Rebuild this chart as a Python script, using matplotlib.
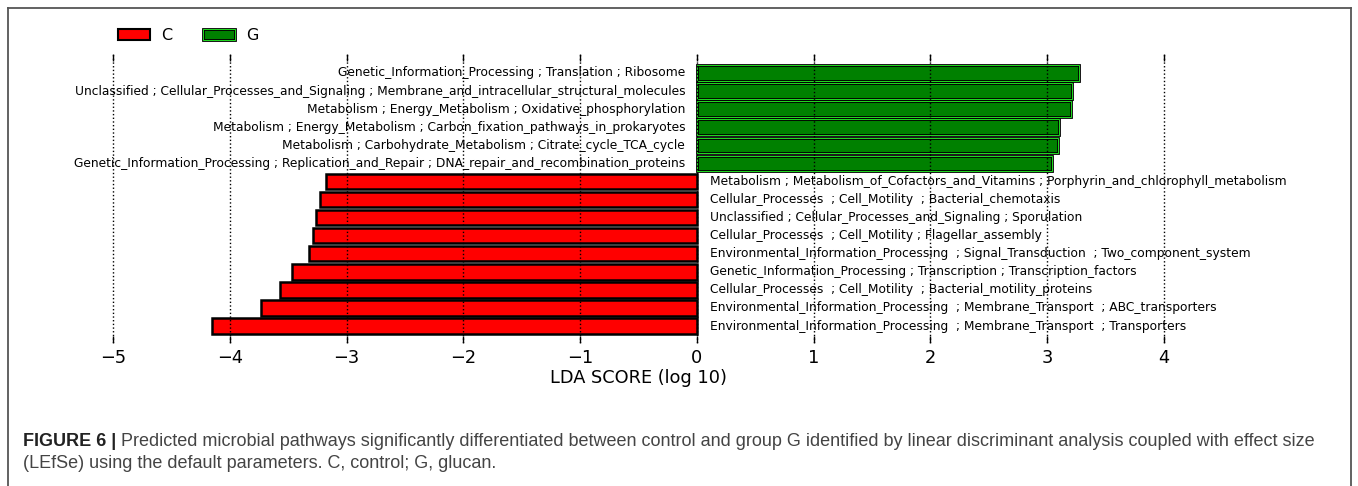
# -*- coding: utf-8 -*-
import matplotlib
matplotlib.use("Agg")
import matplotlib.pyplot as plt
from matplotlib.patches import Patch
from matplotlib.lines import Line2D
from matplotlib.legend_handler import HandlerTuple

# features, top to bottom as in the figure
features = [
    "Genetic_Information_Processing ; Translation ; Ribosome",
    "Unclassified ; Cellular_Processes_and_Signaling ; Membrane_and_intracellular_structural_molecules",
    "Metabolism ; Energy_Metabolism ; Oxidative_phosphorylation",
    "Metabolism ; Energy_Metabolism ; Carbon_fixation_pathways_in_prokaryotes",
    "Metabolism ; Carbohydrate_Metabolism ; Citrate_cycle_TCA_cycle",
    "Genetic_Information_Processing ; Replication_and_Repair ; DNA_repair_and_recombination_proteins",
    "Metabolism ; Metabolism_of_Cofactors_and_Vitamins ; Porphyrin_and_chlorophyll_metabolism",
    "Cellular_Processes  ; Cell_Motility  ; Bacterial_chemotaxis",
    "Unclassified ; Cellular_Processes_and_Signaling ; Sporulation",
    "Cellular_Processes  ; Cell_Motility ; Flagellar_assembly",
    "Environmental_Information_Processing  ; Signal_Transduction  ; Two_component_system",
    "Genetic_Information_Processing ; Transcription ; Transcription_factors",
    "Cellular_Processes  ; Cell_Motility  ; Bacterial_motility_proteins",
    "Environmental_Information_Processing  ; Membrane_Transport  ; ABC_transporters",
    "Environmental_Information_Processing  ; Membrane_Transport  ; Transporters",
]
groups = ["G"] * 6 + ["C"] * 9
lda_scores = [3.27, 3.21, 3.20, 3.10, 3.09, 3.04,
              -3.18, -3.23, -3.26, -3.29, -3.32, -3.47, -3.57, -3.73, -4.15]
xticks = [-5, -4, -3, -2, -1, 0, 1, 2, 3, 4]

red = "#ff0000"
green = "#008000"
lime = "#22dd22"

fig = plt.figure(figsize=(13.58, 4.86), dpi=100)
W, H = 1358.0, 486.0

# axes placed so that -5 -> x=113px and 4 -> x=1164px
left_px, right_px = 83.8, 1193.2
top_px, bottom_px = 54.0, 343.0
ax = fig.add_axes([left_px / W, 1 - bottom_px / H,
                   (right_px - left_px) / W, (bottom_px - top_px) / H])

label_size = 8.8
ypos = list(range(len(features)))
for y, v, g, name in zip(ypos, lda_scores, groups, features):
    if g == "G":
        ax.barh(y, v, height=0.86, color=green, edgecolor="black", linewidth=2.0, zorder=1)
        ax.barh(y, v, height=0.86, fill=False, edgecolor=lime, linewidth=0.7, zorder=1.1)
        ax.text(-0.1, y, name, ha="right", va="center", fontsize=label_size, zorder=3)
    else:
        ax.barh(y, v, height=0.86, color=red, edgecolor="black", linewidth=1.8, zorder=1)
        ax.text(0.11, y, name, ha="left", va="center", fontsize=label_size, zorder=3)

ax.set_xlim(-5.25, 4.25)
ax.set_ylim(14.94, -1.05)
ax.set_xticks(xticks)
ax.set_xticklabels(["\u2212%d" % -t if t < 0 else str(t) for t in xticks])
ax.set_yticks([])
for s in ax.spines.values():
    s.set_visible(False)
ax.tick_params(axis="x", direction="in", top=True, bottom=True, length=5,
               width=1, labelsize=12.8, pad=4)
ax.grid(axis="x", linestyle=":", color="black", linewidth=1)
ax.set_axisbelow(False)
ax.set_xlabel("LDA SCORE (log 10)", fontsize=12.8, labelpad=2)

# legend
h_c = Patch(facecolor=red, edgecolor="black", linewidth=1.5)
h_g = (Patch(facecolor=green, edgecolor="black", linewidth=2.0),
       Patch(fill=False, edgecolor=lime, linewidth=0.7))
fig.legend([h_c, h_g], ["C", "G"], loc="upper left",
           bbox_to_anchor=(107 / W, 1 - 17 / H), ncol=2, frameon=False,
           fontsize=11.5, handlelength=2.0, handleheight=0.7,
           handletextpad=0.7, columnspacing=1.9, borderpad=0.2,
           handler_map={tuple: HandlerTuple(ndivide=1)})

# outer frame of the figure panel (open at the bottom)
frame_kw = dict(color="#555555", linewidth=1.3, transform=fig.transFigure)
fig.add_artist(Line2D([8 / W, 8 / W], [-0.1, 1 - 8 / H], **frame_kw))
fig.add_artist(Line2D([8 / W, 1351 / W], [1 - 8 / H, 1 - 8 / H], **frame_kw))
fig.add_artist(Line2D([1351 / W, 1351 / W], [-0.1, 1 - 8 / H], **frame_kw))

# caption
cap_font = ["Liberation Sans", "DejaVu Sans"]
cap_size = 13.0
bold = fig.text(23 / W, 1 - 441 / H, "FIGURE 6 |", fontsize=cap_size,
                fontweight="bold", family=cap_font, color="#222222", va="center")
fig.canvas.draw()
bb = bold.get_window_extent()
fig.text((bb.x1 + 5) / W, 1 - 441 / H,
         "Predicted microbial pathways significantly differentiated between control and group G "
         "identified by linear discriminant analysis coupled with effect size",
         fontsize=cap_size, family=cap_font, color="#444444", va="center")
fig.text(23 / W, 1 - 463 / H,
         "(LEfSe) using the default parameters. C, control; G, glucan.",
         fontsize=cap_size, family=cap_font, color="#444444", va="center")

fig.savefig("out.png", dpi=100)
